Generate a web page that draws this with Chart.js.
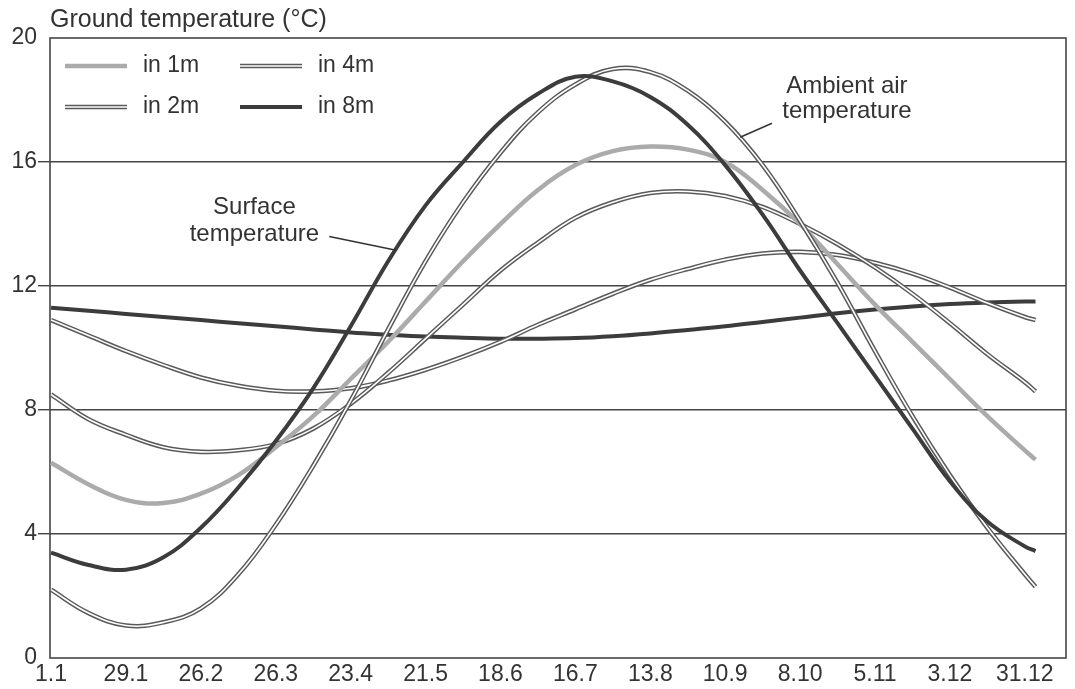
<!DOCTYPE html>
<html>
<head>
<meta charset="utf-8">
<title>Ground temperature</title>
<script src="https://cdn.jsdelivr.net/npm/chart.js@4.4.1/dist/chart.umd.min.js"></script>
<style>
  html, body { margin: 0; padding: 0; background: #fff; }
  #wrap { width: 1075px; height: 689px; position: relative; }
</style>
</head>
<body>
<div id="wrap"><canvas id="chart" width="1075" height="689"></canvas></div>
<script>
// Axis labels (dates every 28 days) and their positions in days from 1 January
const tickLabels = ['1.1', '29.1', '26.2', '26.3', '23.4', '21.5', '18.6', '16.7', '13.8', '10.9', '8.10', '5.11', '3.12', '31.12'];
const tickDays = [0, 28, 56, 84, 112, 140, 168, 196, 224, 252, 280, 308, 336, 364];
const yTicks = [0, 4, 8, 12, 16, 20];

// Sample days for the curves
const days = [0, 14, 28, 42, 56, 70, 84, 98, 112, 126, 140, 154, 168, 182, 196, 210, 224, 238, 252, 266, 280, 294, 308, 322, 336, 350, 364, 368];

// Temperatures in °C
const in1m    = [6.3, 5.6, 5.1, 5.0, 5.3, 5.9, 6.8, 7.8, 9.0, 10.2, 11.5, 12.8, 14.0, 15.1, 15.9, 16.35, 16.5, 16.4, 16.0, 15.1, 14.0, 12.7, 11.4, 10.2, 9.0, 7.8, 6.7, 6.4];
const in2m    = [8.5, 7.7, 7.2, 6.8, 6.65, 6.7, 6.9, 7.4, 8.2, 9.2, 10.3, 11.4, 12.5, 13.4, 14.2, 14.7, 15.0, 15.05, 14.9, 14.55, 14.0, 13.35, 12.6, 11.75, 10.8, 9.8, 8.9, 8.6];
const in4m    = [10.9, 10.4, 9.9, 9.45, 9.05, 8.78, 8.62, 8.6, 8.7, 8.95, 9.3, 9.72, 10.2, 10.75, 11.25, 11.75, 12.2, 12.55, 12.85, 13.05, 13.1, 13.0, 12.75, 12.4, 11.95, 11.45, 11.0, 10.9];
const in8m    = [11.3, 11.2, 11.1, 11.0, 10.9, 10.8, 10.7, 10.6, 10.5, 10.43, 10.37, 10.33, 10.3, 10.3, 10.32, 10.38, 10.47, 10.58, 10.7, 10.84, 10.98, 11.12, 11.24, 11.34, 11.42, 11.47, 11.5, 11.5];
const surface = [3.4, 3.0, 2.85, 3.25, 4.2, 5.5, 7.0, 8.7, 10.7, 12.8, 14.6, 16.0, 17.3, 18.2, 18.75, 18.6, 18.1, 17.2, 15.9, 14.3, 12.5, 10.8, 9.1, 7.4, 5.7, 4.4, 3.6, 3.45];
const ambient = [2.2, 1.45, 1.05, 1.15, 1.6, 2.7, 4.3, 6.2, 8.3, 10.6, 12.8, 14.7, 16.3, 17.6, 18.5, 19.0, 18.9, 18.3, 17.3, 15.9, 14.1, 12.1, 9.9, 7.8, 5.9, 4.2, 2.7, 2.3];

const FONT = "'Liberation Sans', Arial, Helvetica, sans-serif";
const TEXT = '#333';
const GRID = '#454545';

// Line styles
const STYLE = {
  solidGrey: { color: '#ababab', width: 4.5 },
  thickDark: { color: '#3c3c3c', width: 4 },
  double:    { color: '#5a5a5a', width: 4.6, inner: '#ffffff', innerWidth: 1.6 }
};

const pts = arr => days.map((d, i) => ({ x: d, y: arr[i] }));

function lineSet(label, arr, style, order, inner) {
  return {
    label: label,
    data: pts(arr),
    borderColor: inner ? style.inner : style.color,
    borderWidth: inner ? style.innerWidth : style.width,
    pointRadius: 0,
    tension: 0.4,
    fill: false,
    order: order,
    isInner: !!inner
  };
}

const datasets = [
  lineSet('Surface temperature', surface, STYLE.thickDark, 1),
  lineSet('Ambient air temperature', ambient, STYLE.double, 3),
  lineSet('Ambient air temperature', ambient, STYLE.double, 2, true),
  lineSet('in 1m', in1m, STYLE.solidGrey, 4),
  lineSet('in 2m', in2m, STYLE.double, 6),
  lineSet('in 2m', in2m, STYLE.double, 5, true),
  lineSet('in 4m', in4m, STYLE.double, 8),
  lineSet('in 4m', in4m, STYLE.double, 7, true),
  lineSet('in 8m', in8m, STYLE.thickDark, 9)
];

// Legend entries: two columns, two rows
const legendItems = [
  { label: 'in 1m', style: STYLE.solidGrey, col: 0, row: 0 },
  { label: 'in 4m', style: STYLE.double,    col: 1, row: 0 },
  { label: 'in 2m', style: STYLE.double,    col: 0, row: 1 },
  { label: 'in 8m', style: STYLE.thickDark, col: 1, row: 1 }
];

// Callout labels, positioned in data units (day, °C)
const callouts = [
  { lines: ['Surface', 'temperature'], at: [76, 14.55], lineGap: 0.87,
    leader: [[104, 13.6], [129, 13.15]] },
  { lines: ['Ambient air', 'temperature'], at: [297.5, 18.45], lineGap: 0.82,
    leader: [[269.5, 17.25], [257.6, 16.8]] }
];

const framePlugin = {
  id: 'frame',
  beforeDatasetsDraw(chart) {
    const { ctx, chartArea: a } = chart;
    ctx.save();
    ctx.strokeStyle = GRID;
    ctx.lineWidth = 1.6;
    ctx.strokeRect(a.left, a.top, a.right - a.left, a.bottom - a.top);
    ctx.restore();
  }
};

const titlePlugin = {
  id: 'axisTitle',
  afterDraw(chart) {
    const ctx = chart.ctx;
    ctx.save();
    ctx.font = '25px ' + FONT;
    ctx.fillStyle = TEXT;
    ctx.textAlign = 'left';
    ctx.textBaseline = 'middle';
    ctx.fillText('Ground temperature (°C)', chart.chartArea.left, 20);
    ctx.restore();
  }
};

function strokeSwatch(ctx, x0, x1, y, style) {
  ctx.beginPath();
  ctx.moveTo(x0, y); ctx.lineTo(x1, y);
  ctx.strokeStyle = style.color; ctx.lineWidth = style.width; ctx.stroke();
  if (style.inner) {
    ctx.beginPath();
    ctx.moveTo(x0, y); ctx.lineTo(x1, y);
    ctx.strokeStyle = style.inner; ctx.lineWidth = style.innerWidth; ctx.stroke();
  }
}

const legendPlugin = {
  id: 'insetLegend',
  afterDatasetsDraw(chart) {
    const ctx = chart.ctx;
    const a = chart.chartArea;
    const colX = [a.left + 15, a.left + 190];
    const rowY = [a.top + 28, a.top + 69];
    ctx.save();
    ctx.font = '23px ' + FONT;
    ctx.fillStyle = TEXT;
    ctx.textBaseline = 'middle';
    ctx.textAlign = 'left';
    legendItems.forEach(it => {
      const x = colX[it.col], y = rowY[it.row];
      strokeSwatch(ctx, x, x + 62, y, it.style);
      ctx.fillText(it.label, x + 78, y);
    });
    ctx.restore();
  }
};

const calloutPlugin = {
  id: 'callouts',
  afterDatasetsDraw(chart) {
    const ctx = chart.ctx;
    const xs = chart.scales.x, ys = chart.scales.y;
    ctx.save();
    ctx.font = '24px ' + FONT;
    ctx.fillStyle = TEXT;
    ctx.textAlign = 'center';
    ctx.textBaseline = 'middle';
    callouts.forEach(c => {
      c.lines.forEach((t, i) => {
        ctx.fillText(t, xs.getPixelForValue(c.at[0]), ys.getPixelForValue(c.at[1] - i * c.lineGap));
      });
      ctx.beginPath();
      ctx.moveTo(xs.getPixelForValue(c.leader[0][0]), ys.getPixelForValue(c.leader[0][1]));
      ctx.lineTo(xs.getPixelForValue(c.leader[1][0]), ys.getPixelForValue(c.leader[1][1]));
      ctx.strokeStyle = '#333';
      ctx.lineWidth = 1.5;
      ctx.stroke();
    });
    ctx.restore();
  }
};

Chart.defaults.font.family = FONT;
Chart.defaults.color = TEXT;

const gridColor = c => (c.tick && c.tick.value > 0 && c.tick.value < 20) ? GRID : 'rgba(0,0,0,0)';

new Chart(document.getElementById('chart'), {
  type: 'line',
  data: { datasets: datasets },
  options: {
    responsive: false,
    animation: false,
    events: [],
    layout: { padding: { top: 38, right: 9, left: 0, bottom: 0 } },
    plugins: {
      legend: { display: false },
      tooltip: { enabled: false },
      title: { display: false }
    },
    elements: {
      point: { radius: 0 },
      line: { borderCapStyle: 'butt', borderJoinStyle: 'round' }
    },
    scales: {
      x: {
        type: 'linear',
        min: -0.4,
        max: 379.4,
        afterBuildTicks: s => { s.ticks = tickDays.map(v => ({ value: v })); },
        afterFit: s => { s.height = 31; },
        grid: { display: false, drawTicks: false },
        border: { display: false },
        ticks: {
          autoSkip: false,
          maxRotation: 0,
          minRotation: 0,
          padding: 3,
          color: TEXT,
          font: { size: 23 },
          callback: (v, i) => tickLabels[i]
        }
      },
      y: {
        min: 0,
        max: 20,
        afterBuildTicks: s => { s.ticks = yTicks.map(v => ({ value: v })); },
        afterFit: s => { s.width = 50; },
        grid: {
          color: gridColor,
          tickColor: gridColor,
          lineWidth: 1.4,
          drawTicks: true,
          tickLength: 12
        },
        border: { display: false },
        ticks: {
          padding: 1,
          color: TEXT,
          font: { size: 23 },
          callback: v => String(v)
        }
      }
    }
  },
  plugins: [framePlugin, legendPlugin, calloutPlugin, titlePlugin]
});
</script>
</body>
</html>
